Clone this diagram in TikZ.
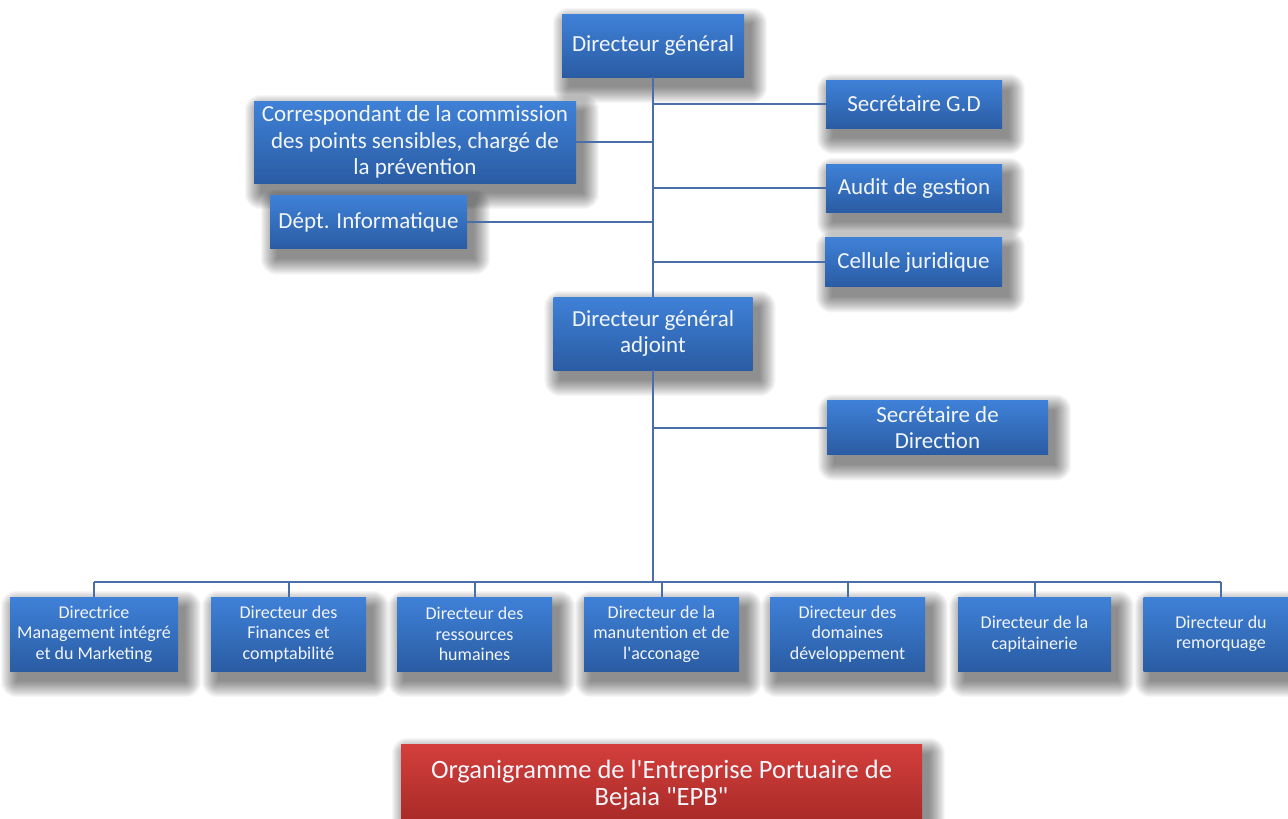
\documentclass[tikz,border=0pt]{standalone}
\usepackage{fontspec}
\setmainfont{Carlito}
\definecolor{boxtop}{HTML}{3F81D8}
\definecolor{boxbot}{HTML}{2A5CA3}
\definecolor{redtop}{HTML}{D43F3C}
\definecolor{redbot}{HTML}{A52926}
\definecolor{linec}{HTML}{4A6FA8}
\definecolor{txt}{HTML}{F2F5FA}
\pgfdeclarelayer{shadowlayer}
\pgfdeclarelayer{bglayer}
\pgfsetlayers{bglayer,shadowlayer,main}
\tikzset{
  orgbox/.style={rectangle, inner sep=0pt, top color=boxtop, bottom color=boxbot, text=txt, align=center},
  redbox/.style={orgbox, top color=redtop, bottom color=redbot},
  bigtext/.style={font=\fontsize{23}{26.5}\selectfont},
  smalltext/.style={font=\fontsize{18}{20.5}\selectfont},
  titletext/.style={font=\fontsize{26.5}{27}\selectfont},
  conn/.style={draw=linec, line width=2pt},
  bottombox/.style={orgbox, smalltext, minimum height=74pt},
  shadowpiece/.style={fill=black, opacity=0.03},
}
\newcommand\orgshadow[1]{%
  \begin{pgfonlayer}{shadowlayer}
  \foreach \e in {0,1,...,16} {
    \path[shadowpiece, rounded corners={\e*1pt}]
      ([xshift={(7-\e)*1pt}, yshift={(-10+\e)*1pt}]#1.north west) rectangle
      ([xshift={(7+\e)*1pt}, yshift={(-10-\e)*1pt}]#1.south east);
  }
  \end{pgfonlayer}}
\begin{document}
\begin{tikzpicture}[x=1pt, y=-1pt]
\begin{pgfonlayer}{bglayer}
\path[fill=white] (0,0) rectangle (1288,819);
\end{pgfonlayer}
\path[clip] (0,0) rectangle (1288,819);
% top level
\node[orgbox, bigtext, minimum width=182pt, minimum height=63pt] (dg) at (653,45.5) {Directeur général};
\node[orgbox, bigtext, minimum width=176pt, minimum height=48pt] (sgd) at (914,104) {Secrétaire G.D};
\node[orgbox, bigtext, minimum width=322pt, minimum height=82pt] (corr) at (415,142) {Correspondant de la commission\\des points sensibles, chargé de\\la prévention};
\node[orgbox, bigtext, minimum width=176pt, minimum height=48pt] (audit) at (914,188) {Audit de gestion};
\node[orgbox, bigtext, minimum width=197pt, minimum height=53pt] (dept) at (368.5,222) {Dépt. Informatique};
\node[orgbox, bigtext, minimum width=177pt, minimum height=49pt] (cell) at (913.5,262) {Cellule juridique};
\node[orgbox, bigtext, minimum width=199pt, minimum height=73pt] (dga) at (653,333.5) {Directeur général\\adjoint};
\node[orgbox, bigtext, minimum width=221pt, minimum height=54pt] (sdir) at (937.5,427.5) {Secrétaire de\\Direction};
% bottom level
\node[bottombox, minimum width=168pt] (b1) at (94,634) {Directrice\\Management intégré\\et du Marketing};
\node[bottombox, minimum width=155pt] (b2) at (288.5,634) {Directeur des\\Finances et\\comptabilité};
\node[bottombox, minimum width=155pt] (b3) at (474.5,634) {Directeur des\\ressources\\humaines};
\node[bottombox, minimum width=155pt] (b4) at (661.5,634) {Directeur de la\\manutention et de\\l\textquotesingle acconage};
\node[bottombox, minimum width=155pt] (b5) at (847.5,634) {Directeur des\\domaines\\développement};
\node[bottombox, minimum width=153pt] (b6) at (1034.5,634) {Directeur de la\\capitainerie};
\node[bottombox, minimum width=155pt] (b7) at (1221,634) {Directeur du\\remorquage};
% title
\node[redbox, titletext, minimum width=521pt, minimum height=82pt] (title) at (661.5,785) {Organigramme de l\textquotesingle Entreprise Portuaire de\\Bejaia \textquotedbl EPB\textquotedbl};
% shadows
\foreach \n in {dg,sgd,corr,audit,dept,cell,dga,sdir,b1,b2,b3,b4,b5,b6,b7,title} {
  \orgshadow{\n}
}
% connectors
\coordinate (bus) at (653,582);
\draw[conn] (dg.south) -- (dga.north);
\draw[conn] (dga.south) -- (bus);
\draw[conn] (sgd.west) -- (sgd.west -| dg.south);
\draw[conn] (audit.west) -- (audit.west -| dg.south);
\draw[conn] (cell.west) -- (cell.west -| dg.south);
\draw[conn] (corr.east) -- (corr.east -| dg.south);
\draw[conn] (dept.east) -- (dept.east -| dg.south);
\draw[conn] (sdir.west) -- (sdir.west -| dga.south);
\draw[conn] (b1.north |- bus) -- (b7.north |- bus);
\foreach \b in {b1,b2,b3,b4,b5,b6,b7} {
  \draw[conn] (\b.north) -- (\b.north |- bus);
}
\end{tikzpicture}
\end{document}
